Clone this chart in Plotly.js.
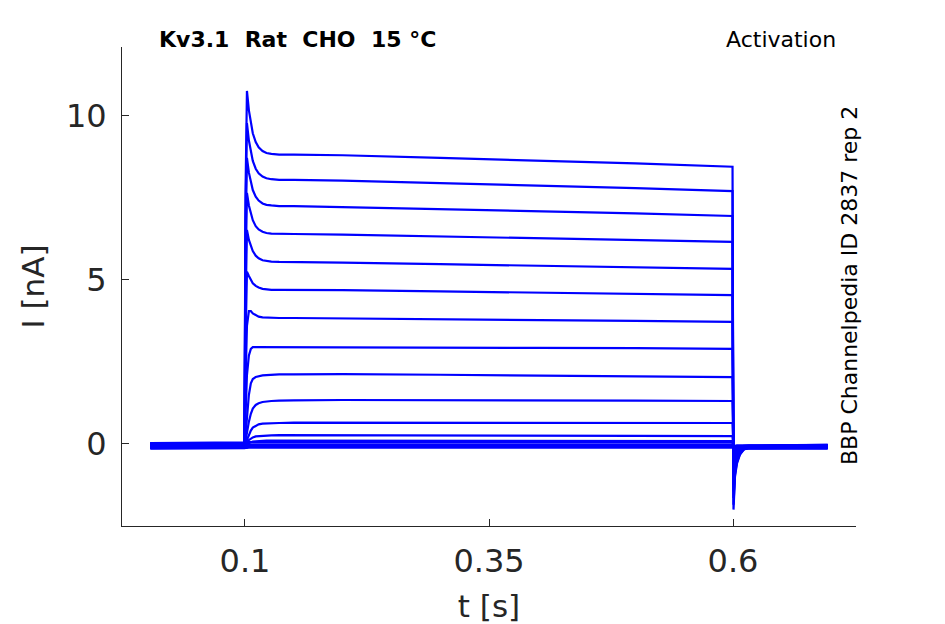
<!DOCTYPE html>
<html>
<head>
<meta charset="utf-8">
<script src="https://cdn.plot.ly/plotly-3.0.1.min.js"></script>
<style>
  html, body { margin: 0; padding: 0; background: #fff; }
  #myDiv { width: 945px; height: 624px; }
</style>
</head>
<body>
<div id="myDiv"></div>
<script>
// tiempos de muestreo (s)
const tiempo = [0.003, 0.05, 0.0995, 0.1005, 0.102, 0.104, 0.106, 0.108, 0.111, 0.114,
  0.118, 0.122, 0.127, 0.135, 0.15, 0.2, 0.3, 0.4, 0.5, 0.5995,
  0.6005, 0.602, 0.604, 0.607, 0.611, 0.616, 0.65, 0.697];

// corrientes (nA) de cada barrido de activacion
const sweep01 = [-0.04, -0.05, -0.04, 7.5, 10.76, 10.17, 9.76, 9.47, 9.20, 9.04, 8.93, 8.87, 8.84, 8.82, 8.82, 8.80, 8.72, 8.64, 8.55, 8.45, -2.0, -1.0, -0.6, -0.33, -0.17, -0.1, -0.08, -0.07];
const sweep02 = [0.02, 0.01, 0.02, 6.8, 9.78, 9.25, 8.89, 8.63, 8.39, 8.25, 8.15, 8.10, 8.07, 8.05, 8.05, 8.03, 7.95, 7.88, 7.80, 7.71, -1.85, -0.93, -0.56, -0.31, -0.16, -0.08, -0.05, -0.04];
const sweep03 = [-0.08, -0.07, -0.08, 6.0, 8.72, 8.27, 7.96, 7.74, 7.54, 7.42, 7.33, 7.29, 7.27, 7.25, 7.25, 7.22, 7.16, 7.10, 7.03, 6.95, -1.65, -0.84, -0.51, -0.29, -0.17, -0.13, -0.12, -0.11];
const sweep04 = [-0.01, -0.02, -0.01, 5.0, 7.65, 7.27, 7.00, 6.82, 6.64, 6.54, 6.47, 6.43, 6.41, 6.40, 6.40, 6.38, 6.32, 6.27, 6.22, 6.16, -1.45, -0.75, -0.46, -0.27, -0.14, -0.08, -0.06, -0.05];
const sweep05 = [-0.11, -0.10, -0.11, 4.0, 6.52, 6.22, 6.02, 5.88, 5.74, 5.66, 5.60, 5.58, 5.56, 5.55, 5.55, 5.53, 5.48, 5.44, 5.39, 5.34, -1.25, -0.66, -0.41, -0.25, -0.16, -0.13, -0.12, -0.12];
const sweep06 = [0.03, 0.02, 0.03, 3.0, 5.25, 5.12, 4.99, 4.90, 4.82, 4.77, 4.73, 4.71, 4.70, 4.70, 4.70, 4.69, 4.65, 4.61, 4.58, 4.54, -1.05, -0.56, -0.36, -0.22, -0.12, -0.07, -0.04, -0.03];
const sweep07 = [-0.06, -0.05, -0.06, 1.8, 3.6, 4.05, 4.05, 3.98, 3.92, 3.88, 3.86, 3.85, 3.84, 3.84, 3.84, 3.83, 3.80, 3.77, 3.75, 3.72, -0.85, -0.47, -0.31, -0.2, -0.13, -0.1, -0.09, -0.09];
const sweep08 = [-0.12, -0.11, -0.12, 0.8, 2.1, 2.7, 2.9, 2.95, 2.95, 2.94, 2.93, 2.93, 2.93, 2.93, 2.94, 2.95, 2.94, 2.93, 2.92, 2.90, -0.65, -0.38, -0.26, -0.18, -0.14, -0.13, -0.13, -0.13];
const sweep09 = [0.0, 0.0, 0.0, 0.25, 0.9, 1.5, 1.85, 1.98, 2.04, 2.07, 2.09, 2.10, 2.11, 2.12, 2.12, 2.13, 2.11, 2.09, 2.07, 2.04, -0.5, -0.3, -0.21, -0.14, -0.09, -0.07, -0.06, -0.06];
const sweep10 = [-0.09, -0.08, -0.09, 0.08, 0.35, 0.68, 0.92, 1.08, 1.19, 1.24, 1.28, 1.30, 1.31, 1.32, 1.33, 1.34, 1.34, 1.33, 1.32, 1.31, -0.35, -0.23, -0.17, -0.13, -0.11, -0.1, -0.1, -0.1];
const sweep11 = [0.01, 0.01, 0.01, 0.03, 0.12, 0.28, 0.41, 0.50, 0.56, 0.60, 0.62, 0.63, 0.64, 0.64, 0.65, 0.65, 0.65, 0.65, 0.64, 0.64, -0.25, -0.16, -0.12, -0.09, -0.06, -0.04, -0.03, -0.03];
const sweep12 = [-0.13, -0.12, -0.13, -0.05, 0.05, 0.12, 0.17, 0.20, 0.23, 0.24, 0.25, 0.26, 0.26, 0.27, 0.27, 0.27, 0.26, 0.26, 0.25, 0.24, -0.18, -0.14, -0.13, -0.12, -0.12, -0.12, -0.12, -0.12];
const sweep13 = [-0.03, -0.03, -0.03, -0.02, 0.0, 0.03, 0.05, 0.07, 0.08, 0.09, 0.10, 0.10, 0.10, 0.10, 0.10, 0.10, 0.10, 0.10, 0.09, 0.09, -0.13, -0.1, -0.08, -0.07, -0.07, -0.07, -0.07, -0.07];
const sweep14 = [0.03, 0.03, 0.03, 0.04, 0.05, 0.06, 0.06, 0.06, 0.06, 0.06, 0.06, 0.06, 0.06, 0.06, 0.06, 0.06, 0.06, 0.06, 0.06, 0.06, -0.07, -0.05, -0.04, -0.04, -0.04, -0.04, -0.04, -0.04];
const sweep15 = [-0.07, -0.07, -0.07, -0.05, -0.03, -0.02, -0.01, -0.01, -0.01, -0.01, -0.01, -0.01, -0.01, -0.01, -0.01, -0.01, -0.01, -0.01, -0.01, -0.01, -0.1, -0.09, -0.08, -0.08, -0.08, -0.08, -0.08, -0.08];
const sweep16 = [-0.10, -0.10, -0.10, -0.09, -0.07, -0.06, -0.06, -0.06, -0.06, -0.06, -0.06, -0.06, -0.06, -0.06, -0.06, -0.06, -0.06, -0.06, -0.06, -0.06, -0.13, -0.11, -0.11, -0.1, -0.1, -0.1, -0.1, -0.1];
const sweep17 = [-0.14, -0.14, -0.14, -0.13, -0.12, -0.11, -0.11, -0.11, -0.11, -0.11, -0.11, -0.11, -0.11, -0.11, -0.11, -0.11, -0.11, -0.11, -0.11, -0.11, -0.15, -0.14, -0.14, -0.14, -0.14, -0.14, -0.14, -0.14];

const barridos = [sweep01, sweep02, sweep03, sweep04, sweep05, sweep06, sweep07, sweep08, sweep09,
  sweep10, sweep11, sweep12, sweep13, sweep14, sweep15, sweep16, sweep17];

// ticks de los ejes
const ticksX = [0.1, 0.35, 0.6];
const ticksY = [0, 5, 10];

const gris = "#262626";
const fuente = "DejaVu Sans, Liberation Sans, sans-serif";

const dataGrafica = barridos.map(function (corriente) {
  return {
    x: tiempo,
    y: corriente,
    type: "scatter",
    mode: "lines",
    line: { color: "#0000ff", width: 2.2 },
    hoverinfo: "skip"
  };
});

const layout = {
  width: 945,
  height: 624,
  margin: { l: 122, r: 89, t: 47, b: 98 },
  paper_bgcolor: "#fff",
  plot_bgcolor: "#fff",
  showlegend: false,
  font: { family: fuente, color: gris },
  xaxis: {
    range: [-0.026, 0.726],
    tickvals: ticksX,
    ticktext: ticksX.map(String),
    ticks: "inside",
    ticklen: 7,
    tickcolor: gris,
    tickwidth: 1,
    tickfont: { size: 32, color: gris, family: fuente },
    ticklabelstandoff: 7,
    showline: true,
    linecolor: gris,
    linewidth: 1,
    showgrid: false,
    zeroline: false,
    title: { text: "t [s]", font: { size: 31, color: gris, family: fuente }, standoff: 17 }
  },
  yaxis: {
    range: [-2.5, 12.1],
    tickvals: ticksY,
    ticktext: ticksY.map(String),
    ticks: "inside",
    ticklen: 7,
    tickcolor: gris,
    tickwidth: 1,
    tickfont: { size: 32, color: gris, family: fuente },
    ticklabelstandoff: 8,
    showline: true,
    linecolor: gris,
    linewidth: 1,
    showgrid: false,
    zeroline: false,
    title: { text: "I [nA]", font: { size: 31, color: gris, family: fuente }, standoff: 12 }
  },
  annotations: [
    {
      xref: "paper", yref: "paper", x: 0.239, y: 1.0167,
      text: "<b>Kv3.1\u00a0\u00a0Rat\u00a0\u00a0CHO\u00a0\u00a015 °C</b>",
      showarrow: false, xanchor: "center", yanchor: "middle",
      font: { size: 22, color: "#000", family: fuente }
    },
    {
      xref: "paper", yref: "paper", x: 0.9755, y: 1.0167,
      text: "Activation",
      showarrow: false, xanchor: "right", yanchor: "middle",
      font: { size: 22, color: "#000", family: fuente }
    },
    {
      xref: "paper", yref: "paper", x: 0.9905, y: 0.501,
      text: "BBP Channelpedia ID 2837 rep 2",
      textangle: -90,
      showarrow: false, xanchor: "center", yanchor: "middle",
      font: { size: 22, color: "#000", family: fuente }
    }
  ]
};

Plotly.newPlot("myDiv", dataGrafica, layout, { displayModeBar: false, staticPlot: true });
</script>
</body>
</html>
